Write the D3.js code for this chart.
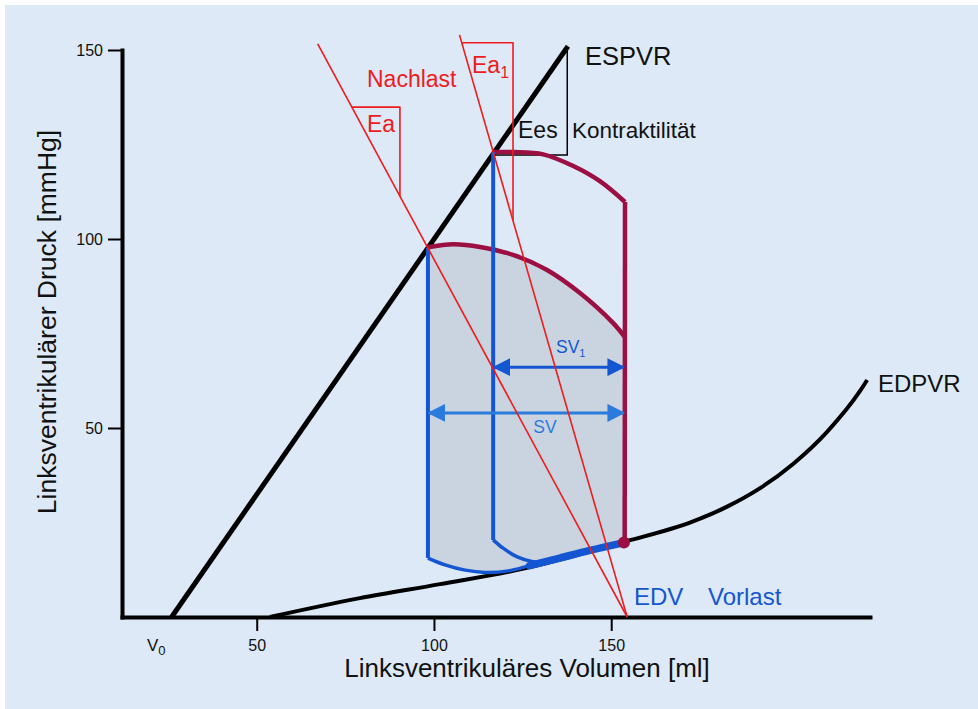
<!DOCTYPE html>
<html>
<head>
<meta charset="utf-8">
<script src="https://cdn.jsdelivr.net/npm/d3@7"></script>
<style>
  body { margin: 0; background: #fff; }
  svg { display: block; font-family: "Liberation Sans", Arial, sans-serif; }
</style>
</head>
<body>
<svg id="chart"></svg>
<script>
// Druck-Volumen-Schleife: ESPVR, EDPVR, zwei Schleifen mit Ea / Ea1

const width = 978;
const height = 709;

// ---- data (volume in ml, pressure in mmHg) ----
const volTicks = [50, 100, 150];
const pressTicks = [50, 100, 150];

const espvr = [[26, 0], [137.8, 151]];
const edpvr = [[53.7, 0], [79.1, 5.0], [101.7, 8.7], [124.3, 12.6], [153.3, 19.8],
               [173.1, 25.3], [182.7, 29.2], [192.0, 34.1], [201.3, 40.5],
               [210.9, 49.0], [220.2, 59.8], [222.2, 62.7]];

const loop1Top = [[98.4, 97.8], [105.4, 98.6], [113, 97.9], [122.3, 95.8],
                  [131.9, 91.8], [141.2, 85.7], [150.5, 77.8], [153.8, 74.1]];
const loop1Left = [[98.3, 97.6], [98.3, 15.6]];
const loop1Bottom = [[98.3, 15.6], [103.1, 13.8], [108.8, 12.4], [114.4, 11.8],
                     [121, 12.2], [127, 13.6], [135.5, 15.6], [144, 17.6], [153.8, 19.7]];

const loop2Top = [[116.7, 123], [122.4, 123], [130.8, 122.4], [139.3, 119.3],
                  [146.8, 115.3], [153.9, 109.8]];
const loop2Left = [[116.7, 123], [116.7, 20.4]];
const loop2Bottom = [[116.7, 20.4], [119.5, 18.2], [123.5, 15.9], [127.9, 14.6], [131, 14.4]];
const rightSide = [[153.8, 19.7], [153.9, 109.8]];
const fillingPhase = [[127, 13.6], [135.5, 15.6], [144, 17.6], [153.3, 19.6]];
const edv = [153.6, 19.7];

const eaLine = [[67.2, 151.6], [154.5, 0]];
const ea1Line = [[107.2, 154], [154.5, 0]];
const eaTriangle = [[76.8, 134.9], [90.4, 134.9], [90.4, 111.3]];
const ea1Triangle = [[107.8, 151.9], [122.3, 151.9], [122.3, 104.8]];
const eesTriangle = [[116.7, 122.2], [137.6, 122.2], [137.6, 150.6]];

const svArrow = [[98.6, 54], [153.5, 54]];
const sv1Arrow = [[117, 66.1], [153.5, 66.1]];

// ---- colours ----
const bg = "#dde9f7";
const loopFill = "#c9d4e0";
const blue = "#1456d2";
const lightBlue = "#2a7bdc";
const maroon = "#9c0f42";
const red = "#ee1c1c";

const svg = d3.select("#chart").attr("width", width).attr("height", height);

svg.append("rect").attr("x", 5).attr("y", 5)
    .attr("width", width - 5).attr("height", height - 5).attr("fill", bg);

const x = d3.scaleLinear().domain([12, 223]).range([122, 870]);
const y = d3.scaleLinear().domain([0, 150]).range([617, 50]);

const straight = d3.line().x(d => x(d[0])).y(d => y(d[1]));
const smooth = d3.line().x(d => x(d[0])).y(d => y(d[1])).curve(d3.curveCatmullRom.alpha(0.5));
const monotone = d3.line().x(d => x(d[0])).y(d => y(d[1])).curve(d3.curveMonotoneX);

// arrow markers
const defs = svg.append("defs");
[["arrBlue", blue], ["arrLight", lightBlue]].forEach(([id, c]) => {
    defs.append("marker").attr("id", id)
        .attr("viewBox", "0 0 10 10").attr("refX", 9).attr("refY", 5)
        .attr("markerWidth", 6).attr("markerHeight", 6)
        .attr("markerUnits", "strokeWidth")
        .attr("orient", "auto-start-reverse")
        .append("path").attr("d", "M0,0 L10,5 L0,10 Z").attr("fill", c);
});

// loop 1 fill
const fillPath = smooth(loop1Top) + smooth(loop1Bottom.slice().reverse()).replace("M", "L") + "Z";
svg.append("path").attr("d", fillPath).attr("fill", loopFill)
    .attr("stroke", "#333").attr("stroke-width", 0.6);

// axes
const xAxis = svg.append("g").attr("transform", `translate(0,${y(0)})`)
    .call(d3.axisBottom(x).tickValues(volTicks).tickSize(14).tickSizeOuter(0).tickPadding(9));
const yAxis = svg.append("g").attr("transform", `translate(${x(12)},0)`)
    .call(d3.axisLeft(y).tickValues(pressTicks).tickSize(14).tickSizeOuter(0).tickPadding(5));
[xAxis, yAxis].forEach(g => {
    g.select(".domain").attr("stroke", "#000").attr("stroke-width", 4).attr("stroke-linecap", "square");
    g.selectAll(".tick line").attr("stroke", "#000").attr("stroke-width", 2);
    g.selectAll(".tick text").attr("fill", "#111").style("font-size", "16px")
        .style("font-family", "'Liberation Sans', Arial, sans-serif");
});

// ESPVR / EDPVR
svg.append("path").attr("d", monotone(edpvr)).attr("fill", "none")
    .attr("stroke", "#000").attr("stroke-width", 4);
svg.append("path").attr("d", straight(espvr)).attr("fill", "none")
    .attr("stroke", "#000").attr("stroke-width", 5);
svg.append("path").attr("d", straight(eesTriangle)).attr("fill", "none")
    .attr("stroke", "#000").attr("stroke-width", 1.5);

// loops
const stroke = (d, gen, c, w) => svg.append("path").attr("d", gen(d)).attr("fill", "none")
    .attr("stroke", c).attr("stroke-width", w).attr("stroke-linejoin", "round");
stroke(loop1Top, smooth, maroon, 4.5);
stroke(loop2Top, smooth, maroon, 4.5);
stroke(rightSide, straight, maroon, 4.5);
stroke(loop1Left, straight, blue, 4);
stroke(loop2Left, straight, blue, 4);
stroke(loop1Bottom, smooth, blue, 3.5);
stroke(loop2Bottom, smooth, blue, 3.5);
stroke(fillingPhase, smooth, blue, 7.5).attr("stroke-linecap", "round");

// SV arrows
svg.append("path").attr("d", straight(sv1Arrow)).attr("stroke", blue).attr("stroke-width", 3)
    .attr("marker-start", "url(#arrBlue)").attr("marker-end", "url(#arrBlue)");
svg.append("path").attr("d", straight(svArrow)).attr("stroke", lightBlue).attr("stroke-width", 3)
    .attr("marker-start", "url(#arrLight)").attr("marker-end", "url(#arrLight)");

// afterload lines
stroke(eaLine, straight, red, 1.6);
stroke(ea1Line, straight, red, 1.6);
stroke(eaTriangle, straight, red, 1.6);
stroke(ea1Triangle, straight, red, 1.6);

svg.append("circle").attr("cx", x(edv[0])).attr("cy", y(edv[1])).attr("r", 6).attr("fill", maroon);

// labels
const label = (tx, ty, txt, size, color, anchor) => svg.append("text")
    .attr("x", tx).attr("y", ty).attr("fill", color).attr("text-anchor", anchor || "start")
    .style("font-size", size + "px").text(txt);

label(585, 65, "ESPVR", 25.5, "#111");
label(518, 138, "Ees", 23, "#111");
label(572, 138, "Kontraktilität", 22.5, "#111");
label(878, 392, "EDPVR", 24, "#111");
label(367, 87, "Nachlast", 23, red);
label(367, 132, "Ea", 23, red);
label(472, 73, "Ea", 23, red).append("tspan").attr("dy", 5).style("font-size", "16px").text("1");
label(556, 353, "SV", 17.5, blue).append("tspan").attr("dy", 4).style("font-size", "11px").text("1");
label(545, 433, "SV", 17.5, lightBlue, "middle");
label(634, 605, "EDV", 24, blue);
label(708, 605, "Vorlast", 24, blue);
label(147, 651, "V", 17, "#111").append("tspan").attr("dy", 4).style("font-size", "13px").text("0");

label(527, 677, "Linksventrikuläres Volumen [ml]", 26, "#111", "middle");
svg.append("text").attr("transform", "translate(56,322) rotate(-90)")
    .attr("text-anchor", "middle").attr("fill", "#111").style("font-size", "26.5px")
    .text("Linksventrikulärer Druck [mmHg]");
</script>
</body>
</html>
